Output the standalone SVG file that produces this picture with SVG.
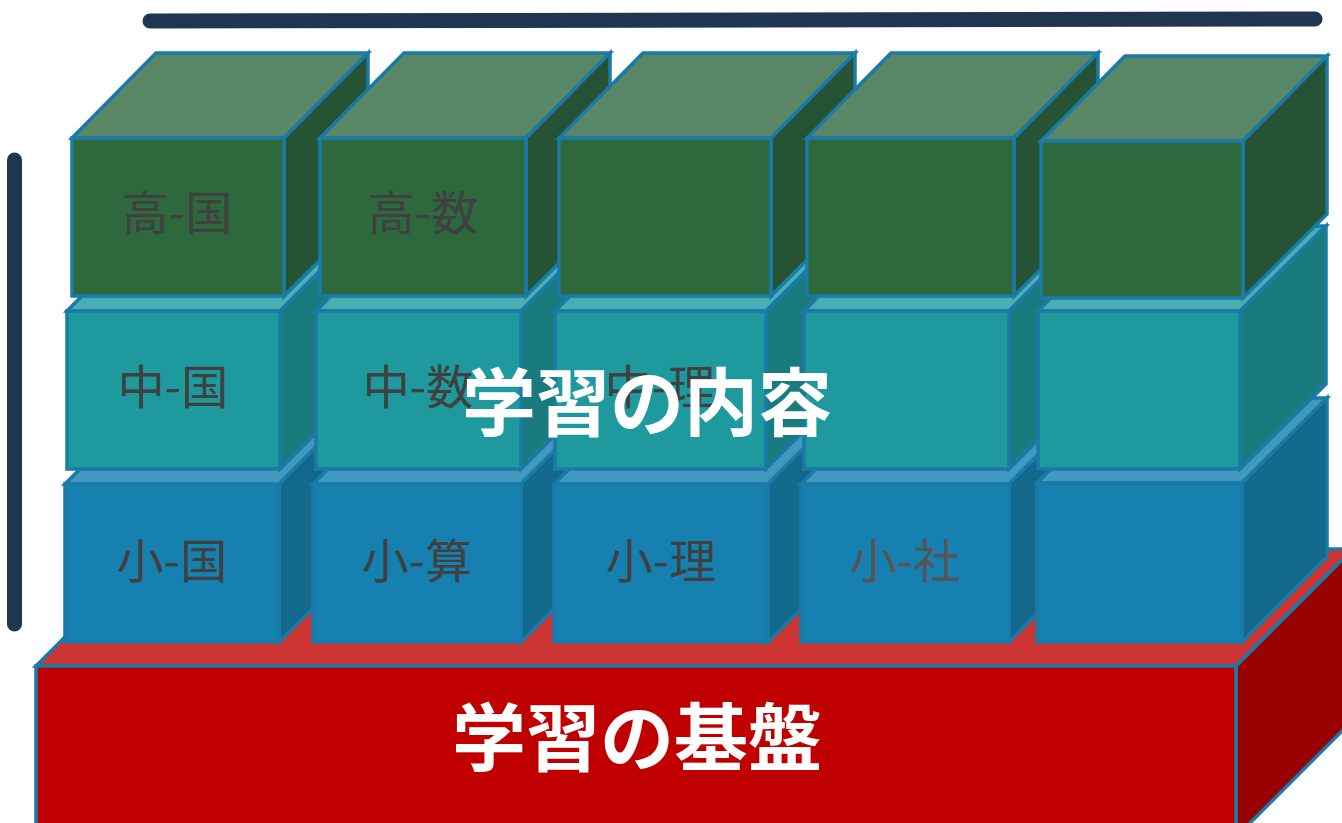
<svg xmlns="http://www.w3.org/2000/svg" width="1342" height="823" viewBox="0 0 1342 823">
<style>
.s{stroke:#1a7aa8;stroke-width:3.5;stroke-linejoin:miter}
.gF{fill:#2e683d}.gT{fill:#5a8766}.gS{fill:#255333}
.tF{fill:#1e9a9e}.tT{fill:#4aafb3}.tS{fill:#1a7b7e}
.bF{fill:#1681b0}.bT{fill:#4299c0}.bS{fill:#12698c}
.rF{fill:#c00000}.rT{fill:#cc3333}.rS{fill:#990000}
.lbl{font-family:"Noto Sans CJK JP","Noto Sans CJK SC",sans-serif;font-size:47px;fill:#404040;text-anchor:middle}
.big{font-family:"Noto Sans CJK JP","Noto Sans CJK SC",sans-serif;font-size:74px;font-weight:bold;fill:#ffffff;text-anchor:middle}
.bar{stroke:#203650;stroke-width:15;stroke-linecap:round;fill:none}
</style>
<g id="bars">
<line class="bar" x1="150" y1="21" x2="1315" y2="19"/>
<line class="bar" x1="14.5" y1="160" x2="14.5" y2="624"/>
</g>
<g id="base">
<polygon class="rT s" points="36,666 153,549 1353,549 1236,666"/>
<polygon class="rS s" points="1236,666 1353,549 1353,720 1236,837"/>
<rect class="rF s" x="36" y="666" width="1200" height="170"/>
</g>
<g id="row-small">
<g id="b1"><polygon class="bT s" points="65,484 150,399 364,399 279,484"/><polygon class="bS s" points="279,484 364,399 364,557 279,642"/><rect class="bF s" x="65" y="484" width="214" height="158"/><text class="lbl" x="172" y="578">小-国</text></g>
<g id="b2"><polygon class="bT s" points="313,484 398,399 606,399 521,484"/><polygon class="bS s" points="521,484 606,399 606,557 521,642"/><rect class="bF s" x="313" y="484" width="208" height="158"/><text class="lbl" x="417" y="578">小-算</text></g>
<g id="b3"><polygon class="bT s" points="554,484 639,399 853,399 768,484"/><polygon class="bS s" points="768,484 853,399 853,557 768,642"/><rect class="bF s" x="554" y="484" width="214" height="158"/><text class="lbl" x="661" y="578">小-理</text></g>
<g id="b4"><polygon class="bT s" points="801,484 886,399 1094,399 1009,484"/><polygon class="bS s" points="1009,484 1094,399 1094,557 1009,642"/><rect class="bF s" x="801" y="484" width="208" height="158"/><text class="lbl" x="905" y="578" style="fill:#555555">小-社</text></g>
<g id="b5"><polygon class="bT s" points="1037,483 1122,398 1327,398 1242,483"/><polygon class="bS s" points="1242,483 1327,398 1327,557 1242,642"/><rect class="bF s" x="1037" y="483" width="205" height="159"/></g>
</g>
<g id="row-middle">
<g id="t1"><polygon class="tT s" points="67,311 152,226 365,226 280,311"/><polygon class="tS s" points="280,311 365,226 365,384 280,469"/><rect class="tF s" x="67" y="311" width="213" height="158"/><text class="lbl" x="173" y="404">中-国</text></g>
<g id="t2"><polygon class="tT s" points="316,311 401,226 606,226 521,311"/><polygon class="tS s" points="521,311 606,226 606,384 521,469"/><rect class="tF s" x="316" y="311" width="205" height="158"/><text class="lbl" x="418" y="404">中-数</text></g>
<g id="t3"><polygon class="tT s" points="555,311 640,226 851,226 766,311"/><polygon class="tS s" points="766,311 851,226 851,384 766,469"/><rect class="tF s" x="555" y="311" width="211" height="158"/><text class="lbl" x="660" y="404">中-理</text></g>
<g id="t4"><polygon class="tT s" points="804,311 889,226 1094,226 1009,311"/><polygon class="tS s" points="1009,311 1094,226 1094,384 1009,469"/><rect class="tF s" x="804" y="311" width="205" height="158"/></g>
<g id="t5"><polygon class="tT s" points="1038,311 1123,226 1326,226 1240,311"/><polygon class="tS s" points="1240,311 1326,226 1326,384 1240,469"/><rect class="tF s" x="1038" y="311" width="202" height="158"/></g>
</g>
<g id="row-high">
<g id="g1"><polygon class="gT s" points="72,138 156,53 368,53 284,138"/><polygon class="gS s" points="284,138 368,53 368,212 284,296"/><rect class="gF s" x="72" y="138" width="212" height="158"/><text class="lbl" x="177" y="230">高-国</text></g>
<g id="g2"><polygon class="gT s" points="320,138 404,53 610,53 526,138"/><polygon class="gS s" points="526,138 610,53 610,212 526,296"/><rect class="gF s" x="320" y="138" width="206" height="158"/><text class="lbl" x="423" y="230">高-数</text></g>
<g id="g3"><polygon class="gT s" points="559,138 643,53 855,53 771,138"/><polygon class="gS s" points="771,138 855,53 855,212 771,296"/><rect class="gF s" x="559" y="138" width="212" height="158"/></g>
<g id="g4"><polygon class="gT s" points="807,138 891,53 1098,53 1014,138"/><polygon class="gS s" points="1014,138 1098,53 1098,212 1014,296"/><rect class="gF s" x="807" y="138" width="207" height="158"/></g>
<g id="g5"><polygon class="gT s" points="1041,141 1125,56 1327,56 1243,141"/><polygon class="gS s" points="1243,141 1327,56 1327,214 1243,298"/><rect class="gF s" x="1041" y="141" width="202" height="157"/></g>
</g>
<g id="titles">
<text class="big" x="647" y="430">学習の内容</text>
<text class="big" x="637" y="765">学習の基盤</text>
</g>
</svg>
